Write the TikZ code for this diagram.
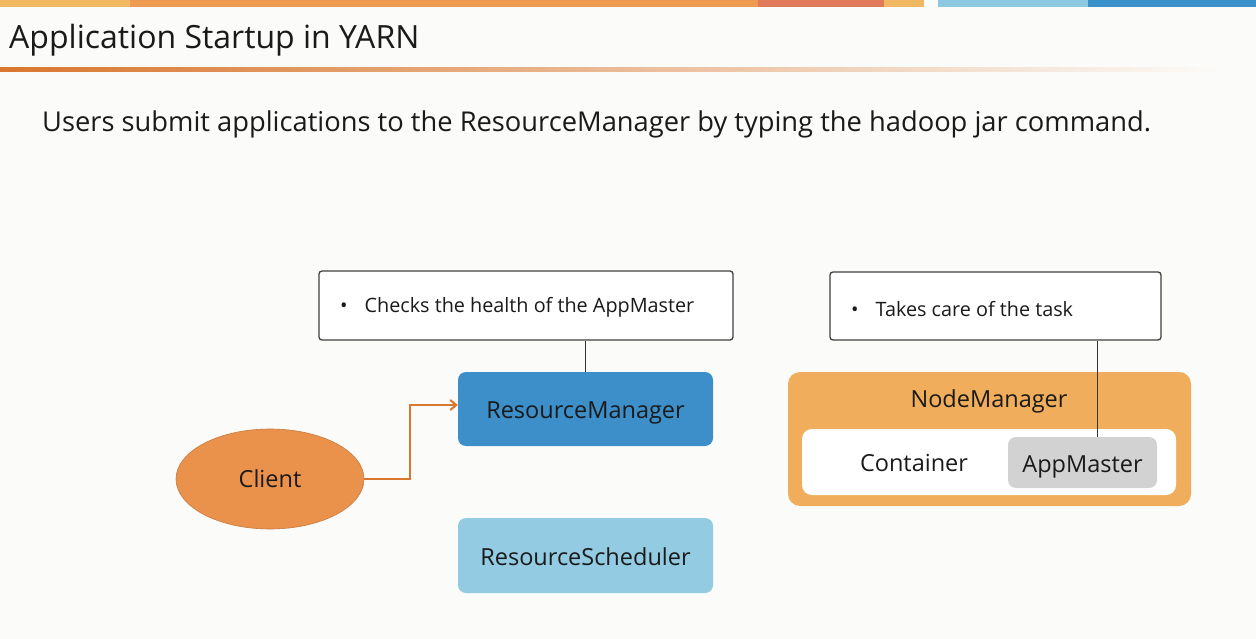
\documentclass[tikz,border=0pt]{standalone}
\usepackage{fontspec}
\setmainfont{Open Sans}
\usetikzlibrary{shapes.geometric,arrows.meta}
\definecolor{bg}{HTML}{FBFBF9}
\definecolor{barA}{HTML}{F0B860}
\definecolor{barB}{HTML}{EE9A50}
\definecolor{barC}{HTML}{E07A5A}
\definecolor{barD}{HTML}{8CC8E0}
\definecolor{barE}{HTML}{3A90C8}
\definecolor{rmblue}{HTML}{3D8FCA}
\definecolor{rslight}{HTML}{92CBE2}
\definecolor{clientor}{HTML}{EA914C}
\definecolor{arrowor}{HTML}{D9772F}
\definecolor{nmor}{HTML}{F0AE5C}
\definecolor{amgray}{HTML}{D2D2D2}
\definecolor{txt}{HTML}{1A1A1A}
\tikzset{
  note/.style={draw=black!75, line width=1.3pt, fill=white, rounded corners=3pt, inner sep=0pt},
  notetext/.style={anchor=west, inner sep=0pt, font=\fontsize{19.8}{24}\selectfont, text=txt},
  boxfont/.style={font=\fontsize{23.5}{28}\selectfont, text=txt},
  boxtext/.style={boxfont, text height=24.7pt, text depth=5.6pt},
  rmbox/.style={fill=rmblue, rounded corners=8pt, inner sep=0pt, boxtext},
  rsbox/.style={fill=rslight, rounded corners=8pt, inner sep=0pt, boxtext},
  conn/.style={draw=black!80, line width=0.8pt},
}
\begin{document}
\begin{tikzpicture}[x=1pt,y=-1pt]
\useasboundingbox (0,0) rectangle (1256,639);
\fill[bg] (0,0) rectangle (1256,639);
% top bars
\fill[barA] (0,0) rectangle (130,7);
\fill[barB] (130,0) rectangle (758,7);
\fill[barC] (758,0) rectangle (884,7);
\fill[barA] (884,0) rectangle (924,7);
\fill[barD] (938,0) rectangle (1088,7);
\fill[barE] (1088,0) rectangle (1256,7);
% title
\node[anchor=west, inner sep=0pt, font=\fontsize{32}{38}\selectfont, text=txt] (title) at (9,40) {Application Startup in YARN};
\shade[left color=arrowor, right color=bg] (0,68) rectangle (1220,72);
\node[anchor=west, inner sep=0pt, font=\fontsize{27.3}{33}\selectfont, text=txt] (sub) at (42,124) {Users submit applications to the ResourceManager by typing the hadoop jar command.};
% notes
\node[note, minimum width=414pt, minimum height=69pt] (n1) at (526,305.5) {};
\node[notetext] (n1t) at (340,307) {\textbullet\hspace{17pt}Checks the health of the AppMaster};
\node[note, minimum width=331pt, minimum height=68pt] (n2) at (995.5,306) {};
\node[notetext] (n2t) at (851,309) {\textbullet\hspace{17pt}Takes care of the task};
% RM / RS
\node[rmbox, minimum width=255pt, minimum height=74pt] (rm) at (585.5,409) {ResourceManager};
\node[rsbox, minimum width=255pt, minimum height=75pt] (rs) at (585.5,555.5) {ResourceScheduler};
% client
\node[ellipse, fill=clientor, draw=clientor!85!black, line width=0.6pt, minimum width=188pt, minimum height=100pt, inner sep=0pt, boxfont] (client) at (270,479) {Client};
% node manager
\node[fill=nmor, rounded corners=12pt, minimum width=403pt, minimum height=134pt, inner sep=0pt] (nm) at (989.5,439) {};
\node[inner sep=0pt, boxtext] (nmt) at (989,398) {NodeManager};
\node[fill=white, rounded corners=10pt, minimum width=374pt, minimum height=66pt, inner sep=0pt] (cont) at (989,462) {};
\node[inner sep=0pt, boxtext] (contt) at (914,462) {Container};
\node[fill=amgray, rounded corners=8pt, minimum width=149pt, minimum height=51pt, inner sep=0pt, boxtext] (am) at (1082.5,462.5) {AppMaster};
% connectors
\draw[conn] (n1.south -| rm.north) -- (rm.north);
\coordinate (amtop) at (1097,437);
\draw[conn] (n2.south -| amtop) -- (amtop);
\draw[draw=arrowor, line width=2pt, -{Straight Barb[length=6pt,width=10pt]}] (client.east) -- (client.east -| 410,0) -- (410,405) -- (rm.west |- 0,405);
\end{tikzpicture}
\end{document}
